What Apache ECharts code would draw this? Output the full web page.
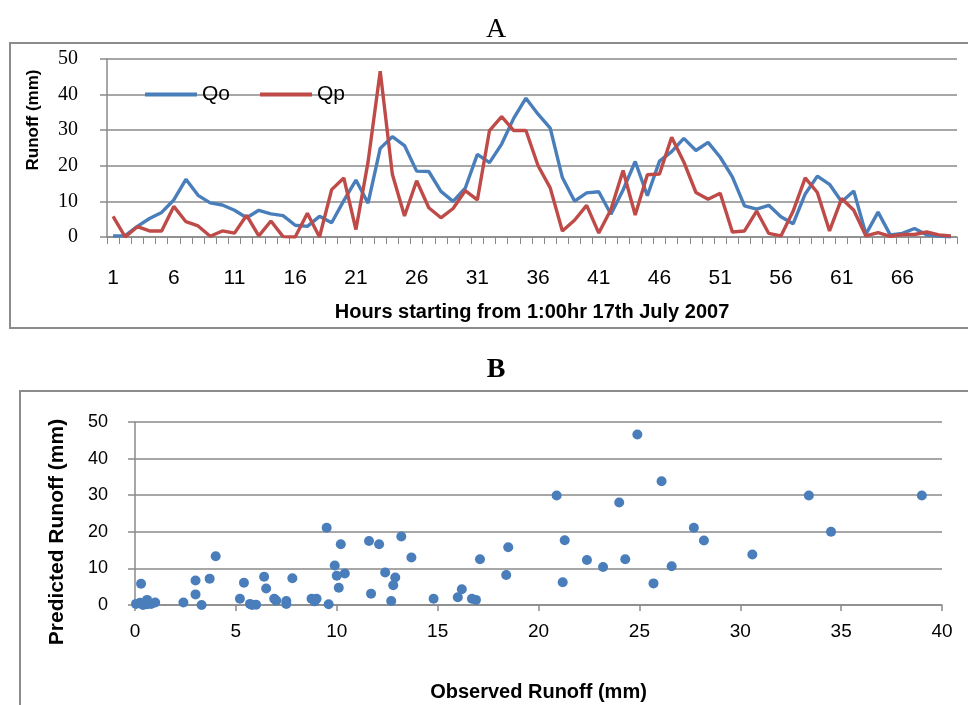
<!DOCTYPE html>
<html>
<head>
<meta charset="utf-8">
<script src="https://cdn.jsdelivr.net/npm/echarts@6/dist/echarts.min.js"></script>
<style>
html,body{margin:0;padding:0;background:#fff;}
#chart{width:968px;height:705px;}
</style>
</head>
<body>
<div id="chart"></div>
<script>
// Hours 1..70
const hours = Array.from({length: 70}, (_, i) => String(i + 1));
// Observed runoff Qo (mm)
const Qo = [0.3, 0.4, 3.0, 5.2, 6.9, 10.4, 16.2, 11.7, 9.6, 9.0,
            7.5, 5.4, 7.5, 6.5, 6.0, 3.3, 3.0, 5.8, 4.0, 10.2,
            16.0, 9.5, 24.9, 28.2, 25.7, 18.5, 18.4, 12.8, 10.0, 13.7,
            23.2, 20.9, 26.1, 33.4, 39.0, 34.5, 30.6, 16.7, 10.1, 12.4,
            12.7, 6.4, 13.2, 21.2, 11.6, 21.3, 24.0, 27.7, 24.3, 26.6,
            22.4, 16.9, 8.75, 7.8, 8.9, 5.7, 3.7, 12.1, 17.1, 14.8,
            9.9, 12.9, 0.8, 7.0, 0.6, 1.0, 2.4, 0.6, 0.25, 0.05];
// Predicted runoff Qp (mm)
const Qp = [5.8, 0.0, 2.9, 1.7, 1.7, 8.6, 4.3, 3.1, 0.2, 1.7,
            1.1, 6.1, 0.3, 4.5, 0.1, 0.0, 6.7, 0.0, 13.3, 16.6,
            2.1, 21.1, 46.6, 17.6, 5.9, 15.8, 8.2, 5.4, 8.0, 13.0,
            10.4, 29.9, 33.8, 29.9, 29.9, 20.0, 13.8, 1.7, 4.7, 8.9,
            1.1, 7.7, 18.7, 6.2, 17.5, 17.7, 28.0, 21.1, 12.5, 10.6,
            12.3, 1.4, 1.7, 7.3, 1.0, 0.3, 7.2, 16.6, 12.5, 1.7,
            10.8, 7.5, 0.3, 1.2, 0.2, 0.7, 0.7, 1.4, 0.6, 0.3];
const seriesNames = ['Qo', 'Qp'];
const titleA = 'A';
const titleB = 'B';
const xNameA = 'Hours starting from 1:00hr 17th July 2007';
const yNameA = 'Runoff (mm)';
const xNameB = 'Observed Runoff (mm)';
const yNameB = 'Predicted Runoff (mm)';

const scatterData = Qo.map((o, i) => [o, Qp[i]]);

const gray = '#8a8a8a';
const chart = echarts.init(document.getElementById('chart'), null, {renderer: 'canvas'});
chart.setOption({
  backgroundColor: '#ffffff',
  animation: false,
  graphic: [
    {type: 'rect', shape: {x: 10, y: 43, width: 980, height: 285},
     style: {fill: 'none', stroke: '#8c8c8c', lineWidth: 2}, silent: true},
    {type: 'rect', shape: {x: 20, y: 391, width: 970, height: 340},
     style: {fill: 'none', stroke: '#8c8c8c', lineWidth: 2}, silent: true}
  ],
  title: [
    {text: titleA, left: 491, top: 11, textAlign: 'center',
     textStyle: {fontFamily: 'Liberation Serif', fontSize: 28, fontWeight: 'normal', color: '#000'}},
    {text: titleB, left: 491, top: 351, textAlign: 'center',
     textStyle: {fontFamily: 'Liberation Serif', fontSize: 28, fontWeight: 'bold', color: '#000'}}
  ],
  legend: {
    data: seriesNames,
    left: 140, top: 79,
    icon: 'rect',
    itemWidth: 52, itemHeight: 4, itemGap: 30,
    textStyle: {fontFamily: 'Liberation Sans', fontSize: 21, color: '#000'}
  },
  grid: [
    {left: 107, top: 59, width: 850, height: 178},
    {left: 135, top: 422, width: 807, height: 183}
  ],
  xAxis: [
    {
      type: 'category', gridIndex: 0, data: hours, boundaryGap: true,
      name: xNameA, nameLocation: 'middle', nameGap: 65,
      nameTextStyle: {fontFamily: 'Liberation Sans', fontSize: 20, fontWeight: 'bold', color: '#000'},
      axisLine: {lineStyle: {color: gray, width: 1.5}},
      axisTick: {show: true, interval: 0, length: 7, lineStyle: {color: gray, width: 1}},
      axisLabel: {interval: 4, margin: 31, fontFamily: 'Liberation Sans', fontSize: 21, color: '#000'},
      splitLine: {show: false}
    },
    {
      type: 'value', gridIndex: 1, min: 0, max: 40, interval: 5,
      name: xNameB, nameLocation: 'middle', nameGap: 77,
      nameTextStyle: {fontFamily: 'Liberation Sans', fontSize: 20, fontWeight: 'bold', color: '#000'},
      axisLine: {show: true, lineStyle: {color: gray, width: 1.5}},
      axisTick: {show: true, length: 6, lineStyle: {color: gray, width: 1.5}},
      axisLabel: {margin: 17, fontFamily: 'Liberation Sans', fontSize: 19, color: '#000'},
      splitLine: {show: false}
    }
  ],
  yAxis: [
    {
      type: 'value', gridIndex: 0, min: 0, max: 50, interval: 10,
      name: yNameA, nameLocation: 'middle', nameGap: 65,
      nameTextStyle: {fontFamily: 'Liberation Sans', fontSize: 17, fontWeight: 'bold', color: '#000',
                      padding: [0, 0, 0, 56]},
      axisLine: {show: true, lineStyle: {color: gray, width: 1.5}},
      axisTick: {show: true, length: 7, lineStyle: {color: gray, width: 1.5}},
      axisLabel: {margin: 29, fontFamily: 'Liberation Serif', fontSize: 20, color: '#000'},
      splitLine: {show: true, lineStyle: {color: gray, width: 1.5}}
    },
    {
      type: 'value', gridIndex: 1, min: 0, max: 50, interval: 10,
      name: yNameB, nameLocation: 'middle', nameGap: 67,
      nameTextStyle: {fontFamily: 'Liberation Sans', fontSize: 21, fontWeight: 'bold', color: '#000',
                      padding: [0, 37, 0, 0]},
      axisLine: {show: true, lineStyle: {color: gray, width: 1.5}},
      axisTick: {show: true, length: 7, lineStyle: {color: gray, width: 1.5}},
      axisLabel: {margin: 27, fontFamily: 'Liberation Sans', fontSize: 18, color: '#000'},
      splitLine: {show: true, lineStyle: {color: gray, width: 1.5}}
    }
  ],
  series: [
    {name: seriesNames[0], type: 'line', xAxisIndex: 0, yAxisIndex: 0, data: Qo,
     symbol: 'none', color: '#4A7EBB', lineStyle: {width: 3.4, color: '#4A7EBB'}},
    {name: seriesNames[1], type: 'line', xAxisIndex: 0, yAxisIndex: 0, data: Qp,
     symbol: 'none', color: '#BE4B48', lineStyle: {width: 3.4, color: '#BE4B48'}},
    {name: 'Qo vs Qp', type: 'scatter', xAxisIndex: 1, yAxisIndex: 1, data: scatterData,
     symbol: 'circle', symbolSize: 10, itemStyle: {color: '#4A7EBB', opacity: 1}}
  ]
});
</script>
</body>
</html>
